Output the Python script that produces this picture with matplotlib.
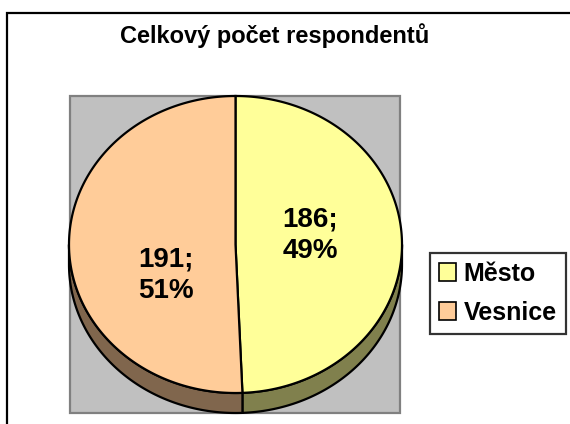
import numpy as np
import matplotlib.pyplot as plt
from matplotlib.patches import Rectangle, Polygon, Patch

plt.rcParams["font.family"] = ["Liberation Sans", "DejaVu Sans"]

title = "Celkový počet respondentů"
categories = ["Město", "Vesnice"]
counts = [186, 191]
top_colors = ["#FFFF99", "#FFCC99"]
side_colors = ["#80804D", "#80664D"]

# pie geometry in pixels (y grows downward)
cx, cy = 235.5, 244.5
a, b = 166.5, 148.5
depth = 20

fig = plt.figure(figsize=(5.7, 4.24), dpi=100)
ax = fig.add_axes([0, 0, 1, 1])
ax.set_xlim(0, 570)
ax.set_ylim(424, 0)
ax.axis("off")

# outer chart border and grey plot area
ax.add_patch(Rectangle((7, 13), 640, 480, facecolor="white", edgecolor="black", lw=1.6))
ax.add_patch(Rectangle((70, 96), 330, 317, facecolor="#C0C0C0", edgecolor="#808080", lw=1.6))


def pt(t, dy=0):
    return cx + a * np.cos(t), cy - b * np.sin(t) + dy


total = sum(counts)
start = np.pi / 2
bounds = []
for val in counts:
    end = start - 2 * np.pi * val / total
    bounds.append((end, start))
    start = end

# side walls (visible lower half only)
for (t0, t1), col in zip(bounds, side_colors):
    lo, hi = t0 % (2 * np.pi), t1 % (2 * np.pi)
    if hi <= lo:
        hi += 2 * np.pi
    segs = []
    for base in (0, 2 * np.pi):
        s = max(lo, np.pi + base)
        e = min(hi, 2 * np.pi + base)
        if e > s:
            segs.append((s, e))
    for s, e in segs:
        t = np.linspace(s, e, 120)
        x, y = pt(t)
        xb, yb = pt(t[::-1], depth)
        verts = np.column_stack([np.concatenate([x, xb]), np.concatenate([y, yb])])
        ax.add_patch(Polygon(verts, closed=True, facecolor=col, edgecolor="black", lw=1.6))

# top faces
for (t0, t1), col in zip(bounds, top_colors):
    t = np.linspace(t1, t0, 300)
    x, y = pt(t)
    verts = np.vstack([[cx, cy], np.column_stack([x, y])])
    ax.add_patch(Polygon(verts, closed=True, facecolor=col, edgecolor="black", lw=1.6))

# data labels
label_pos = [(310, 235), (166, 275)]
for (x, y), val in zip(label_pos, counts):
    pct = round(100 * val / total)
    ax.text(x, y, f"{val};\n{pct}%", ha="center", va="center", fontsize=20,
            fontweight="bold", linespacing=1.25)

ax.text(275, 36, title, ha="center", va="center", fontsize=17, fontweight="bold")

handles = [Patch(facecolor=c, edgecolor="black", lw=1.2) for c in top_colors]
leg = ax.legend(handles, categories, loc="upper left",
                bbox_to_anchor=(430 / 570, 1 - 253 / 424), borderaxespad=0,
                prop={"size": 18, "weight": "bold"}, handlelength=0.7,
                handleheight=0.7, handletextpad=0.3, labelspacing=0.6,
                borderpad=0.35, fancybox=False, frameon=True)
leg.get_frame().set_edgecolor("black")
leg.get_frame().set_linewidth(1.6)

fig.savefig("out.png", dpi=100)
